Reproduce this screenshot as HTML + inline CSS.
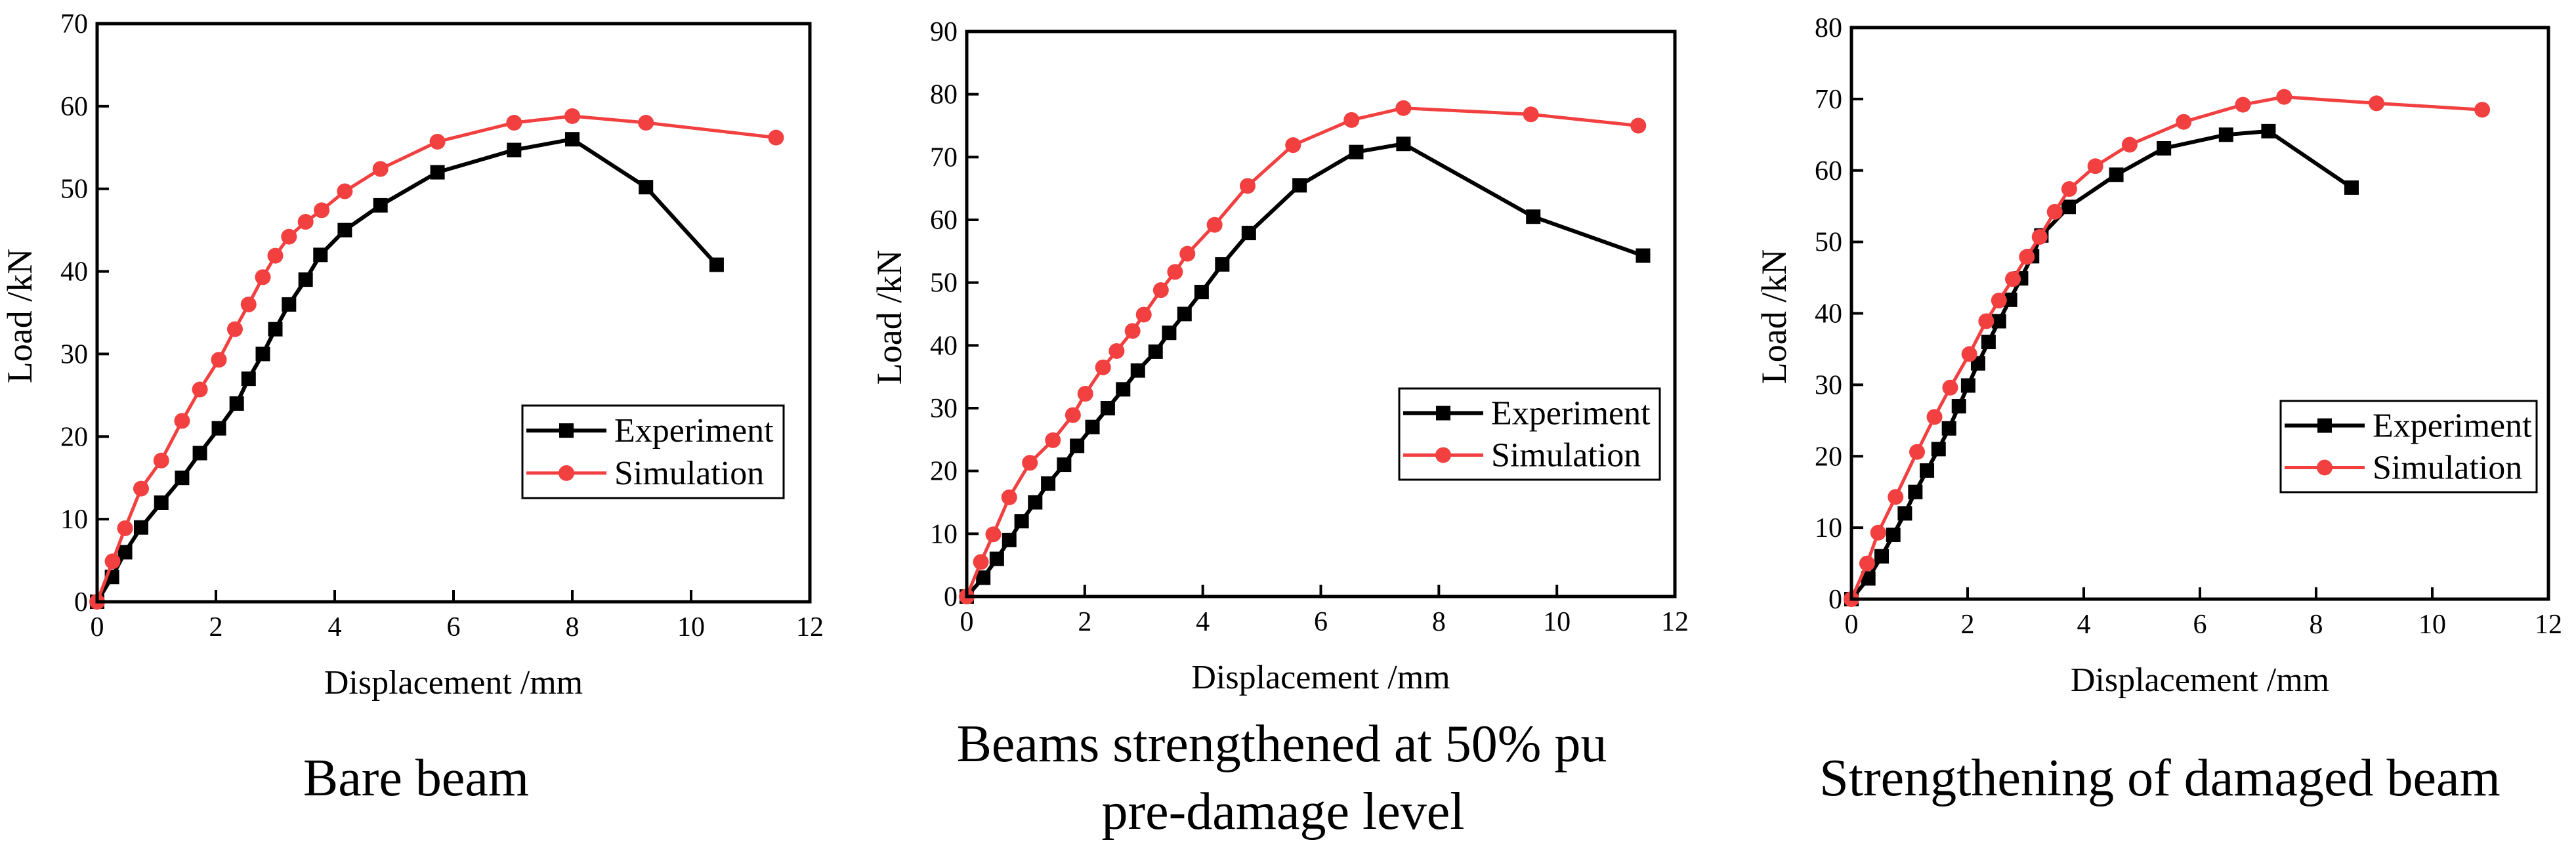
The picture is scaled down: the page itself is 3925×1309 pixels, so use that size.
<!DOCTYPE html>
<html><head><meta charset="utf-8"><style>
html,body{margin:0;padding:0;background:#fff;}
svg{display:block;}
text{font-family:"Liberation Serif","Times New Roman",Times,serif;}
</style></head><body>
<svg id="fig" width="3925" height="1309" viewBox="0 0 3925 1309" xmlns="http://www.w3.org/2000/svg" font-family="Liberation Serif, serif">
<text x="634" y="1212" font-size="80" font-family="Liberation Serif, serif" text-anchor="middle">Bare beam</text>
<text x="1953" y="1160" font-size="80" font-family="Liberation Serif, serif" text-anchor="middle">Beams strengthened at 50% pu</text>
<text x="1955" y="1263" font-size="80" font-family="Liberation Serif, serif" text-anchor="middle">pre-damage level</text>
<text x="3291" y="1212" font-size="80" font-family="Liberation Serif, serif" text-anchor="middle">Strengthening of damaged beam</text>
</svg>
<script>
// Chart 1: Bare beam
const c1ExpX=[0,0.25,0.47,0.74,1.08,1.43,1.73,2.05,2.35,2.55,2.79,3.0,3.23,3.51,3.76,4.17,4.77,5.73,7.02,8.0,9.24,10.43];
const c1ExpY=[0,3,6,9,12,15,18,21,24,27,30,33,36,39,42,45,48,52,54.7,56,50.2,40.8];
const c1SimX=[0,0.26,0.47,0.74,1.08,1.43,1.73,2.05,2.32,2.55,2.79,3.0,3.23,3.51,3.78,4.17,4.77,5.73,7.02,8.0,9.24,11.43];
const c1SimY=[0,4.9,8.9,13.7,17.1,21.9,25.7,29.3,33,36,39.3,41.9,44.2,46,47.4,49.7,52.4,55.7,58,58.8,58,56.2];
const c1YTicks=[0,10,20,30,40,50,60,70];
// Chart 2: Beams strengthened at 50% pu
const c2ExpX=[0,0.28,0.51,0.72,0.93,1.16,1.38,1.65,1.87,2.13,2.39,2.65,2.9,3.2,3.43,3.69,3.98,4.33,4.78,5.64,6.6,7.4,9.6,11.46];
const c2ExpY=[0,3,6,9,12,15,18,21,24,27,30,33,36,39,42,45,48.5,52.9,57.9,65.5,70.8,72.1,60.5,54.3];
const c2SimX=[0,0.24,0.45,0.72,1.07,1.46,1.8,2.01,2.31,2.54,2.81,3.0,3.29,3.53,3.74,4.2,4.76,5.53,6.52,7.4,9.56,11.38];
const c2SimY=[0,5.5,9.9,15.8,21.3,24.9,28.9,32.3,36.5,39.1,42.3,44.9,48.8,51.7,54.6,59.2,65.4,71.9,75.9,77.8,76.8,75];
const c2YTicks=[0,10,20,30,40,50,60,70,80,90];
// Chart 3: Strengthening of damaged beam
const c3ExpX=[0,0.29,0.52,0.72,0.92,1.1,1.3,1.5,1.68,1.85,2.01,2.18,2.36,2.54,2.73,2.92,3.11,3.27,3.74,4.56,5.38,6.45,7.18,8.61];
const c3ExpY=[0,2.9,6,9,12,15,18,21,23.9,27,29.9,33,36,38.9,41.9,44.9,48,50.9,54.9,59.4,63.1,65,65.5,57.6];
const c3SimX=[0,0.27,0.46,0.76,1.13,1.43,1.7,2.03,2.32,2.54,2.78,3.02,3.24,3.5,3.75,4.2,4.79,5.72,6.74,7.45,9.04,10.86];
const c3SimY=[0,5,9.3,14.3,20.6,25.5,29.6,34.3,38.9,41.8,44.8,47.9,50.7,54.2,57.4,60.6,63.6,66.8,69.2,70.3,69.4,68.5];
const c3YTicks=[0,10,20,30,40,50,60,70,80];
const xTicks=[0,2,4,6,8,10,12];
const seriesNames=["Experiment","Simulation"];

const NS="http://www.w3.org/2000/svg";
const svg=document.getElementById('fig');
const RED="#f23f3f";
const FF="Liberation Serif, serif";
function mk(tag,attrs,parent){const e=document.createElementNS(NS,tag);for(const k in attrs)e.setAttribute(k,attrs[k]);if(tag==='text')e.setAttribute('font-family',FF);parent.appendChild(e);return e;}

function drawChart(idx,L,R,T,B,yTicks,ex,ey,sx,sy,leg){
  const ymax=yTicks[yTicks.length-1];
  const X=v=>L+(v/12)*(R-L);
  const Y=v=>B-(v/ymax)*(B-T);
  const g=mk('g',{},svg);
  
  
  xTicks.forEach(t=>{
    const l=mk('line',{x1:X(t),x2:X(t),y1:B,y2:B-18,stroke:'#000','stroke-width':4},g);
    
    
    const tx=mk('text',{x:X(t),y:B+52,'font-size':42,'text-anchor':'middle'},g);
    tx.textContent=t;
    
    
  });
  yTicks.forEach(t=>{
    const l=mk('line',{x1:L,x2:L+18,y1:Y(t),y2:Y(t),stroke:'#000','stroke-width':4},g);
    
    
    const tx=mk('text',{x:L-14,y:Y(t)+14,'font-size':42,'text-anchor':'end'},g);
    tx.textContent=t;
    
    
  });
  function series(xs,ys,color,marker,name){
    const sg=mk('g',{},g);
    
    
    const pts=xs.map((v,i)=>X(v)+','+Y(ys[i])).join(' ');
    const pl=mk('polyline',{points:pts,fill:'none',stroke:color,'stroke-width':marker==='sq'?6:5,'stroke-linejoin':'round'},sg);
    
    
    xs.forEach((v,i)=>{
      let m;
      if(marker==='sq') m=mk('rect',{x:X(v)-11,y:Y(ys[i])-11,width:22,height:22,fill:color},sg);
      else m=mk('circle',{cx:X(v),cy:Y(ys[i]),r:12,fill:color},sg);
      
      
    });
  }
  series(ex,ey,'#000','sq','experiment');
  series(sx,sy,RED,'ci','simulation');
  const fr=mk('rect',{x:L,y:T,width:R-L,height:B-T,fill:'none',stroke:'#000','stroke-width':5},g);
  
  
  const xt=mk('text',{x:(L+R)/2,y:B+140,'font-size':52,'text-anchor':'middle'},g);
  xt.textContent='Displacement /mm';
  
  
  const yx=L-100, yy=(T+B)/2+5;
  const yt=mk('text',{x:yx,y:yy,'font-size':54,'text-anchor':'middle',transform:'rotate(-90 '+yx+' '+yy+')'},g);
  yt.textContent='Load /kN';
  
  
  const lg=mk('g',{},g);
  
  
  mk('rect',{x:leg[0],y:leg[1],width:leg[2]-leg[0],height:leg[3]-leg[1],fill:'#fff',stroke:'#000','stroke-width':3},lg);
  const rows=[leg[1]+(leg[3]-leg[1])*0.27,leg[1]+(leg[3]-leg[1])*0.73];
  seriesNames.forEach((nm,i)=>{
    const e=mk('g',{},lg);
    
    
    const color=i===0?'#000':RED;
    mk('line',{x1:leg[0]+6,x2:leg[0]+128,y1:rows[i],y2:rows[i],stroke:color,'stroke-width':i===0?6:5},e);
    if(i===0) mk('rect',{x:leg[0]+56,y:rows[i]-11,width:22,height:22,fill:color},e);
    else mk('circle',{cx:leg[0]+67,cy:rows[i],r:12,fill:color},e);
    const t=mk('text',{x:leg[0]+140,y:rows[i]+17,'font-size':52},e);
    t.textContent=nm;
  });
}
drawChart(1,148,1234,36,917,c1YTicks,c1ExpX,c1ExpY,c1SimX,c1SimY,[796,618,1194,759]);
drawChart(2,1473,2552,48,909,c2YTicks,c2ExpX,c2ExpY,c2SimX,c2SimY,[2132,592,2529,731]);
drawChart(3,2821,3883,42,913,c3YTicks,c3ExpX,c3ExpY,c3SimX,c3SimY,[3475,611,3865,750]);
</script>
</body></html>
